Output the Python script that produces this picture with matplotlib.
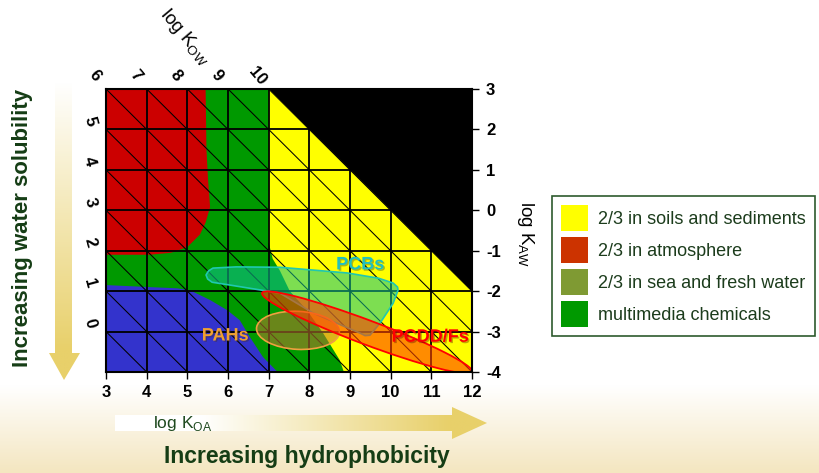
import numpy as np
import matplotlib.pyplot as plt
from matplotlib.patches import Polygon, Ellipse, Patch
from matplotlib.colors import LinearSegmentedColormap
import matplotlib.patheffects as pe

plt.rcParams['font.family'] = ['Liberation Sans', 'DejaVu Sans']

# axis values
koa_ticks = [3, 4, 5, 6, 7, 8, 9, 10, 11, 12]
kaw_ticks = [3, 2, 1, 0, -1, -2, -3, -4]
kow_top = [6, 7, 8, 9, 10]
kow_left = [5, 4, 3, 2, 1, 0]

# regions (log KOA, log KAW)
red_x = [3, 5.45, 5.47, 5.51, 5.56, 5.45, 5.31, 5.0, 4.6, 4.08, 3]
red_y = [3, 3, 1.5, 0.75, 0.08, -0.3, -0.6, -0.91, -1.05, -1.1, -1.1]

blue_x = [3, 4.08, 4.75, 5.07, 5.56, 5.98, 6.29, 6.54, 6.86, 7.22, 3]
blue_y = [-1.85, -1.9, -1.93, -1.98, -2.22, -2.47, -2.72, -3.14, -3.63, -4, -4]

yellow_x = [7, 12, 12, 8.85, 8.75, 8.34, 7.94, 7.52, 7.28, 7.1, 7]
yellow_y = [3, 3, -4, -4, -3.71, -3.04, -2.47, -2.0, -1.5, -1.2, -0.8]

black_x = [7, 12, 12]
black_y = [3, 3, -2]

# chemical groups
pcb_x = [5.46, 5.52, 5.63, 6.2, 7.28, 8.93, 9.7, 10.06, 10.17, 10.18, 10.06, 9.74,
         9.49, 9.37, 9.25, 8.09, 7.28, 6.05, 5.61, 5.5]
pcb_y = [-1.60, -1.5, -1.43, -1.40, -1.41, -1.55, -1.68, -1.80, -1.9, -1.98, -2.30,
         -2.79, -3.09, -3.1, -3.04, -2.54, -2.05, -1.85, -1.78, -1.7]
pcdd_center = (9.42, -3.02)
pcdd_size = (5.52, 0.6)
pcdd_angle = -20.7
pah_center = (7.72, -2.97)
pah_size = (2.04, 0.94)
pah_angle = -3

legend_labels = ['2/3 in soils and sediments', '2/3 in atmosphere',
                 '2/3 in sea and fresh water', 'multimedia chemicals']
legend_colors = ['#ffff00', '#cc3300', '#7f9a33', '#009900']

dkgreen = '#153d15'
gold = '#e8d06a'

fig = plt.figure(figsize=(8.2, 4.73), dpi=100)

# decoration layer in pixel coords
bg = fig.add_axes([0, 0, 1, 1], zorder=0)
bg.set_xlim(0, 820)
bg.set_ylim(473, 0)
bg.axis('off')

cm_bg = LinearSegmentedColormap.from_list('bg', ['#ffffff', '#f4e6c0'])
bg.imshow(np.linspace(0, 1, 100).reshape(-1, 1), cmap=cm_bg, aspect='auto',
          extent=[0, 820, 473, 385], zorder=0)

# horizontal arrow
harr = Polygon([(115, 415), (452, 415), (452, 407), (487, 423), (452, 439),
                (452, 431), (115, 431)], closed=True, facecolor='none', edgecolor='none')
bg.add_patch(harr)
grad = np.linspace(0, 1, 256).reshape(1, -1)
im = bg.imshow(grad, cmap=LinearSegmentedColormap.from_list(
    'h', [(0, '#ffffff'), (0.23, '#ffffff'), (0.9, gold), (1, gold)]),
    aspect='auto', extent=[115, 487, 439, 407], zorder=1)
im.set_clip_path(harr)

# vertical arrow
varr = Polygon([(55, 83), (72, 83), (72, 353), (80, 353), (64, 380), (49, 353),
                (55, 353)], closed=True, facecolor='none', edgecolor='none')
bg.add_patch(varr)
im2 = bg.imshow(np.linspace(0, 1, 256).reshape(-1, 1), cmap=LinearSegmentedColormap.from_list(
    'v', [(0, '#ffffff'), (0.9, gold), (1, gold)]),
    aspect='auto', extent=[49, 80, 380, 83], zorder=1)
im2.set_clip_path(varr)

bg.text(153, 428, r'log K$_\mathregular{OA}$', fontsize=12.5, color='#1f4a1f',
        ha='left', va='baseline', zorder=3)
bg.text(307, 456, 'Increasing hydrophobicity', fontsize=16.5, fontweight='bold',
        color=dkgreen, ha='center', va='center')
bg.text(23, 228, 'Increasing water solubility', fontsize=16, fontweight='bold',
        color=dkgreen, ha='center', va='center', rotation=90)
bg.text(185, 37, r'log K$_\mathregular{OW}$', fontsize=13.5, rotation=-50,
        ha='center', va='center')
bg.text(526, 234, r'log K$_\mathregular{AW}$', fontsize=13.5, rotation=-90,
        ha='center', va='center')

# main chart
ax = fig.add_axes([106 / 820, 1 - 372 / 473, 366 / 820, 283 / 473], zorder=2)
ax.set_xlim(3, 12)
ax.set_ylim(-4, 3)
ax.set_facecolor('#009900')

ax.fill(yellow_x, yellow_y, color='#ffff00', lw=0, zorder=1)
ax.fill(red_x, red_y, color='#cc0000', lw=0, zorder=1)
ax.fill(blue_x, blue_y, color='#3333cc', lw=0, zorder=1)
ax.fill(black_x, black_y, color='#000000', lw=0, zorder=2)

# grid + constant log KOW diagonals
for v in koa_ticks[1:-1]:
    ax.axvline(v, color='k', lw=1.3, zorder=3)
for h in kaw_ticks[1:-1]:
    ax.axhline(h, color='k', lw=1.3, zorder=3)
for c in range(-1, 16):
    ax.axline((c, 0), slope=-1, color='k', lw=0.75, zorder=3)

ax.add_patch(Polygon(np.column_stack([pcb_x, pcb_y]), closed=True,
                     facecolor='#12c494', alpha=0.55, edgecolor='none', zorder=4))
ax.add_patch(Polygon(np.column_stack([pcb_x, pcb_y]), closed=True, joinstyle='round',
                     facecolor='none', edgecolor='#20c8b0', lw=1.2, zorder=4))
ax.add_patch(Ellipse(pah_center, pah_size[0], pah_size[1], angle=pah_angle,
                     facecolor='#c07830', alpha=0.55, edgecolor='none', zorder=4))
ax.add_patch(Ellipse(pah_center, pah_size[0], pah_size[1], angle=pah_angle,
                     facecolor='none', edgecolor='#f0a040', lw=1.2, zorder=4))
ax.add_patch(Ellipse(pcdd_center, pcdd_size[0], pcdd_size[1], angle=pcdd_angle,
                     facecolor='#ff4000', alpha=0.6, edgecolor='none', zorder=4))
ax.add_patch(Ellipse(pcdd_center, pcdd_size[0], pcdd_size[1], angle=pcdd_angle,
                     facecolor='none', edgecolor='#ff0000', lw=1.3, zorder=4))

shadow = [pe.SimplePatchShadow(offset=(1, -1), alpha=0.35), pe.Normal()]
ax.text(9.25, -1.35, 'PCBs', color='#20c0c0', fontsize=13, fontweight='bold',
        ha='center', va='center', zorder=5, path_effects=shadow)
ax.text(10.97, -3.14, 'PCDD/Fs', color='#ff0000', fontsize=13, fontweight='bold',
        ha='center', va='center', zorder=5, path_effects=shadow)
ax.text(5.93, -3.11, 'PAHs', color='#f0a030', fontsize=13, fontweight='bold',
        ha='center', va='center', zorder=5, path_effects=shadow)

# log KOW labels along top and left edges
for k in kow_top:
    ax.text(k - 3 - 0.27, 3.33, str(k), rotation=-50, fontsize=12, fontweight='bold',
            ha='center', va='center', clip_on=False)
for k in kow_left:
    ax.text(2.6, k - 3 + 0.2, str(k), rotation=-75, fontsize=12, fontweight='bold',
            ha='center', va='center', clip_on=False)

ax.yaxis.tick_right()
ax.set_xticks(koa_ticks)
ax.set_yticks(kaw_ticks)
ax.set_xticklabels([str(t) for t in koa_ticks], fontweight='bold', fontsize=12)
ax.set_yticklabels([str(t) for t in kaw_ticks], fontweight='bold', fontsize=12)
ax.tick_params(axis='x', length=5, width=1, pad=4)
ax.tick_params(axis='y', length=5, width=1, pad=5)
for s in ax.spines.values():
    s.set_linewidth(1.5)
    s.set_zorder(6)

handles = [Patch(facecolor=c, edgecolor='none') for c in legend_colors]
leg = fig.legend(handles, legend_labels, loc='upper left',
                 bbox_to_anchor=(552 / 820, 1 - 196 / 473), fontsize=13,
                 frameon=True, fancybox=False, edgecolor='#2d5a2d', framealpha=1,
                 handlelength=1.5, handleheight=1.84, labelspacing=0.33,
                 handletextpad=0.55, borderpad=0.5, borderaxespad=0,
                 labelcolor='#1c3c1c')
leg.get_frame().set_linewidth(1.2)

fig.savefig('out.png', dpi=100)
